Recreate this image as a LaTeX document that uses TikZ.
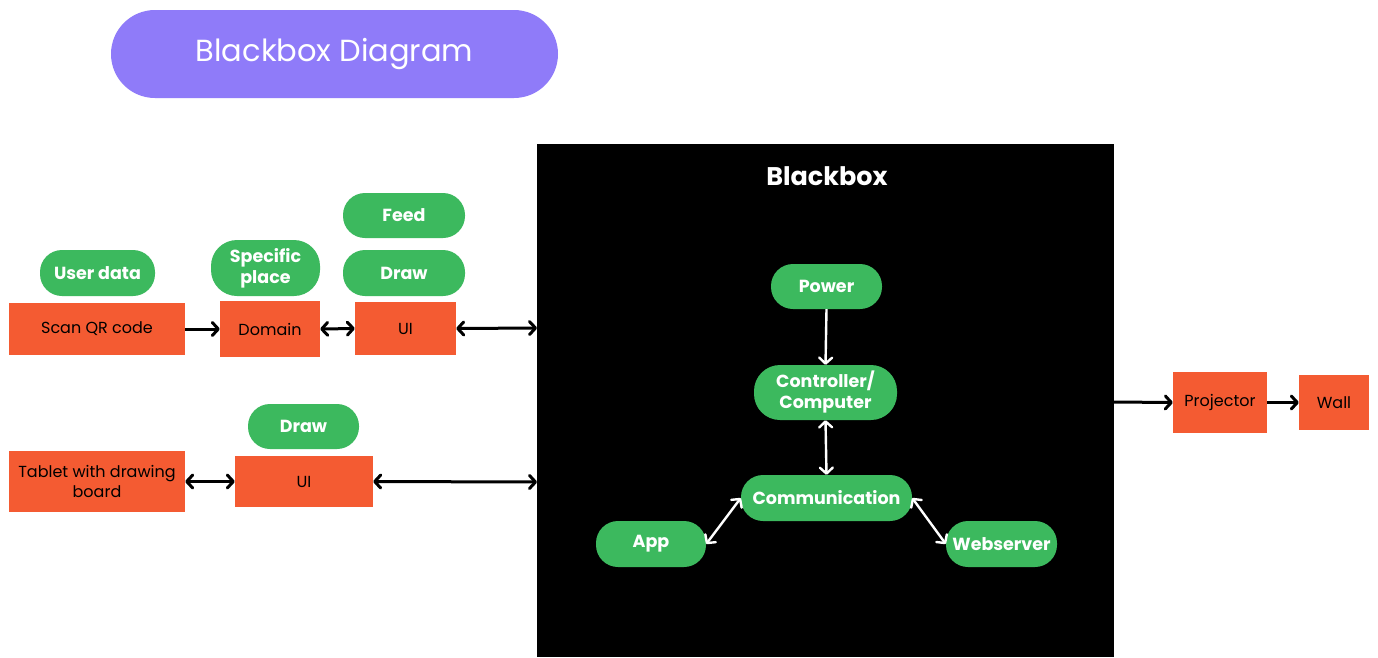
\documentclass[tikz,border=0pt]{standalone}
\usepackage{fontspec}
\setmainfont{Poppins}
\usetikzlibrary{arrows.meta}
\definecolor{orng}{HTML}{F45B32}
\definecolor{grn}{HTML}{3CB95E}
\definecolor{purp}{HTML}{8F7BF9}
\tikzset{
  obox/.style={fill=orng, draw=none, minimum width=#1, inner sep=0pt, align=center, font=\fontsize{16}{19}\selectfont, text=black},
  pill/.style={fill=grn, draw=none, rounded corners=22pt, minimum width=#1, minimum height=46pt, inner sep=0pt, align=center, font=\fontsize{17.5}{22}\selectfont\bfseries, text=white},
  barb/.tip={Straight Barb[length=6pt,width=13pt,line cap=round,line join=round]},
  conn/.style={line width=3pt, draw=black, -barb},
  bconn/.style={conn, barb-barb},
  wconn/.style={conn, draw=white},
  wbconn/.style={bconn, draw=white},
}
\begin{document}
\begin{tikzpicture}[x=1pt,y=-1pt]
\useasboundingbox[fill=white] (0,0) rectangle (1378,657);
% title
\node[fill=purp, rounded corners=44pt, minimum width=447pt, minimum height=88pt, text=white, font=\fontsize{30.5}{36}\selectfont] (title) at (334.5,54) {Blackbox Diagram};
% black box
\node[fill=black, minimum width=577pt, minimum height=513pt, inner sep=0pt] (bb) at (825.5,400.5) {};
\node[text=white, font=\fontsize{25.5}{30}\selectfont\bfseries] (bbt) at (827,176) {Blackbox};
% left row 1
\node[obox=176pt, minimum height=52pt] (scan) at (97,329) {Scan QR code};
\node[obox=100pt, minimum height=56pt] (dom) at (270,329) {Domain};
\node[obox=101pt, minimum height=53pt] (ui1) at (405.5,328.5) {UI};
\node[pill=115pt] (ud) at (97.5,273) {User data};
\node[pill=109pt, minimum height=56pt, rounded corners=26pt, font=\fontsize{17.5}{21}\selectfont\bfseries] (sp) at (265.5,268) {Specific\\place};
\node[pill=122pt, minimum height=45pt] (feed) at (404,215.5) {Feed};
\node[pill=122pt] (draw1) at (404,273) {Draw};
% left row 2
\node[obox=176pt, minimum height=61pt, font=\fontsize{16}{20}\selectfont] (tab) at (97,481.5) {Tablet with drawing\\board};
\node[obox=138pt, minimum height=51pt] (ui2) at (304,481.5) {UI};
\node[pill=111pt, minimum height=45pt] (draw2) at (303.5,426.5) {Draw};
% inside
\node[pill=111pt, minimum height=45pt] (pow) at (826.5,286.5) {Power};
\node[pill=143pt, minimum height=55pt, rounded corners=26pt, font=\fontsize{17.5}{21}\selectfont\bfseries] (ctrl) at (825.5,392.5) {Controller/\\Computer};
\node[pill=171pt, minimum height=46pt] (comm) at (826.5,498) {Communication};
\node[pill=110pt] (app) at (651,544) {App};
\node[pill=111pt] (web) at (1001.5,544) {Webserver};
% right
\node[obox=94pt, minimum height=61pt] (proj) at (1220,402.5) {Projector};
\node[obox=70pt, minimum height=55pt] (wall) at (1334,402.5) {Wall};
% connectors
\coordinate (bbl1) at (537,328);
\coordinate (bbl2) at (537,482);
\coordinate (bbr) at (1114,402);
\draw[conn] (scan.east) -- (dom.west);
\draw[bconn] (dom.east) -- (ui1.west);
\draw[bconn] (ui1.east) -- (bbl1);
\draw[bconn] (tab.east |- ui2.west) -- (ui2.west);
\draw[bconn] (ui2.east) -- (bbl2);
\draw[conn] (bbr) -- (proj.west);
\draw[conn] (proj.east) -- (wall.west);
\draw[wconn, line width=2.4pt] (pow.south) -- (ctrl.north);
\draw[wbconn, line width=2.4pt] (ctrl.south) -- (comm.north);
\draw[wbconn, line width=2.4pt] (comm.west) -- (app.east);
\draw[wbconn, line width=2.4pt] (comm.east) -- (web.west);
\end{tikzpicture}
\end{document}
